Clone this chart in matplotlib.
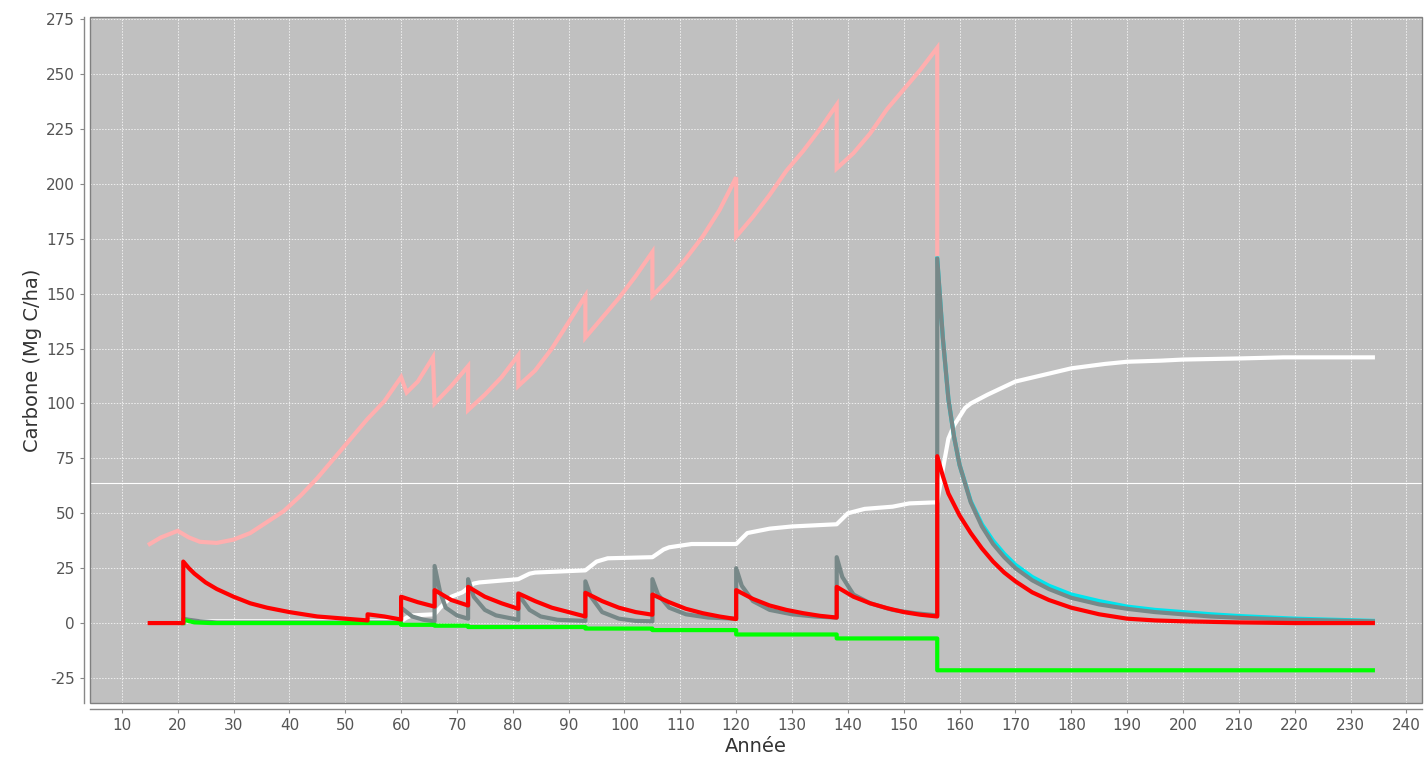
import matplotlib
matplotlib.use("Agg")
import matplotlib.pyplot as plt
from matplotlib.patches import Rectangle

plt.rcParams["axes.unicode_minus"] = False

# ---------------- data ----------------
pink_x = [15, 17, 20, 22, 24, 27, 30, 33, 36, 39, 42, 45, 48, 51, 54, 57, 60, 61, 63, 65.7, 66,
          69, 72, 72, 75, 78, 81, 81, 84, 87, 90, 93, 93, 96, 99, 102, 105, 105, 108, 111,
          114, 117, 120, 120, 123, 126, 129, 132, 135, 138, 138, 141, 144, 147, 150, 153, 156, 156]
pink_y = [36, 39, 42, 39, 37, 36.5, 38, 41, 46, 51, 58, 66, 75, 84, 93, 101, 112, 105, 110, 121, 100,
          108, 117, 97, 104, 112, 122, 108, 115, 125, 137, 149, 130, 139, 148, 158, 169, 149, 157, 166,
          176, 188, 203, 176, 185, 195, 206, 215, 225, 236, 207, 214, 223, 234, 243, 252, 262, 166]

white_x = [21, 60, 61, 62, 66, 67, 69, 71, 73, 74, 81, 83, 84, 93, 95, 97, 105, 107, 108, 112, 120,
           122, 126, 130, 138, 140, 143, 148, 151, 156, 157, 158, 159, 161, 162, 165, 170, 175, 180,
           186, 190, 196, 200, 210, 218, 234]
white_y = [0.8, 0.8, 2.5, 3.5, 4, 7, 12, 14, 18, 18.5, 20, 22.5, 23, 24, 28, 29.5, 30, 33.5, 34.5, 36, 36,
           41, 43, 44, 45, 50, 52, 53, 54.5, 55, 70, 84, 90, 98, 100, 104, 110, 113, 116,
           118, 119, 119.5, 120, 120.5, 121, 121]

gray_x = [21, 21, 22, 24, 27, 60, 60, 61, 62, 64, 66, 66, 67, 68, 70, 72, 72, 73, 75, 77, 80, 81, 81,
          83, 85, 88, 93, 93, 94, 96, 99, 102, 105, 105, 106, 108, 111, 115, 120, 120, 121, 123, 126,
          130, 134, 138, 138, 139, 141, 144, 148, 152, 156, 156, 157, 158, 159, 160, 162, 164, 166,
          168, 170, 173, 176, 180, 185, 190, 195, 200, 205, 210, 220, 234]
gray_y = [0, 2, 1.5, 0.8, 0.3, 0.3, 7, 5, 3, 1.5, 0.8, 26, 14, 7, 3.5, 2, 20, 12, 6, 3.5, 2, 1.5, 13,
          6, 3, 1.5, 1, 19, 12, 5, 2, 1, 0.8, 20, 13, 7, 4, 2.5, 2, 25, 17, 10, 6,
          4, 3, 2.5, 30, 21, 13, 9, 6, 4.5, 3.5, 166, 130, 102, 85, 72, 55, 44, 36,
          30, 25, 19.5, 15.5, 11.5, 8.5, 6.5, 5, 4, 3, 2.4, 1.5, 0.8]

cyan_x = [156, 157, 158, 159, 160, 162, 164, 166, 168, 170, 173, 176, 180, 185, 190, 195, 200, 205,
          210, 220, 234]
cyan_y = [166, 130, 102, 85, 72, 55.5, 45, 37.5, 31.5, 26.5, 21, 17, 13, 10, 7.5, 6, 5, 4, 3.2, 2, 1]

green_x = [21, 21, 23, 26, 60, 60, 66, 66, 72, 72, 93, 93, 105, 105, 120, 120, 138, 138, 156, 156, 234]
green_y = [0, 1.5, 0.3, 0, 0, -0.8, -0.8, -1.2, -1.2, -1.8, -1.8, -2.5, -2.5, -3.2, -3.2, -5.2, -5.2,
           -7, -7, -21.5, -21.5]

red_x = [15, 21, 21, 22, 23, 25, 27, 30, 33, 36, 40, 45, 50, 54, 54, 57, 60, 60, 63, 66, 66, 69, 72,
         72, 75, 78, 81, 81, 84, 87, 90, 93, 93, 96, 99, 102, 105, 105, 108, 111, 114, 117, 120, 120,
         123, 126, 129, 132, 135, 138, 138, 141, 144, 147, 150, 153, 156, 156, 157, 158, 160, 162,
         164, 166, 168, 170, 173, 176, 180, 185, 190, 195, 200, 210, 220, 234]
red_y = [0, 0, 28, 25, 22.5, 18.5, 15.5, 12, 9, 7, 5, 3, 2, 1.2, 4, 3, 1.6, 12, 9.5, 7.5, 15, 10.5, 8,
         16.5, 12, 9, 6.5, 13.5, 10, 7, 5, 3, 13.8, 10, 7, 5, 3.8, 13, 9.5, 6.5, 4.5, 3, 1.8, 15,
         11, 8, 6, 4.5, 3.3, 2.5, 16.5, 12, 9, 6.8, 5, 3.8, 3, 76, 67, 59, 49, 41,
         34, 28, 23, 19, 14, 10.5, 7, 4, 2, 1.2, 0.8, 0.3, 0, 0]

x_ticks = list(range(10, 250, 10))
y_ticks = list(range(-25, 300, 25))
marker_level = 63.7

# ---------------- figure ----------------
W, H = 1425, 762
fig = plt.figure(figsize=(W / 100, H / 100), dpi=100, facecolor="white")
ax = fig.add_axes([90 / W, 1 - 703 / H, (1422 - 90) / W, (703 - 17) / H])
ax.set_facecolor("#c0c0c0")

ax.set_xlim(4.3, 242.8)
ax.set_ylim(-36.4, 276)
ax.set_xticks(x_ticks)
ax.set_yticks(y_ticks)

ax.grid(True, color="white", linestyle=(0, (1.5, 1.5)), linewidth=0.7, alpha=0.75)
ax.set_axisbelow(True)

lw = 3.0
ax.plot(pink_x, pink_y, color="#ffafaf", lw=lw, zorder=3, solid_joinstyle="miter")
ax.plot(white_x, white_y, color="white", lw=lw, zorder=4)
ax.plot(cyan_x, cyan_y, color="#00e5ee", lw=lw, zorder=5)
ax.plot(gray_x, gray_y, color="#778888", lw=lw, zorder=6)
ax.plot(green_x, green_y, color="#00ff00", lw=lw, zorder=7)
ax.plot(red_x, red_y, color="#ff0000", lw=lw, zorder=8)

ax.axhline(marker_level, color="white", lw=0.8, zorder=2.5)

# spines: axis lines offset from plot border like JFreeChart
for s in ["top", "right"]:
    ax.spines[s].set_visible(False)
for s in ["left", "bottom"]:
    ax.spines[s].set_position(("outward", 4))
    ax.spines[s].set_color("#888888")
    ax.spines[s].set_linewidth(1.0)
ax.add_patch(Rectangle((0, 0), 1, 1, transform=ax.transAxes, fill=False,
                       edgecolor="#808080", lw=1.0, zorder=10, clip_on=False))

ax.tick_params(axis="both", direction="out", length=3, width=0.8, color="#888888",
               labelcolor="#555555", labelsize=11, pad=4)

ax.set_xlabel("Année", fontsize=14, color="#333333", labelpad=3)
ax.set_ylabel("Carbone (Mg C/ha)", fontsize=14, color="#333333", labelpad=3)

fig.savefig("out.png", dpi=100, facecolor="white")
